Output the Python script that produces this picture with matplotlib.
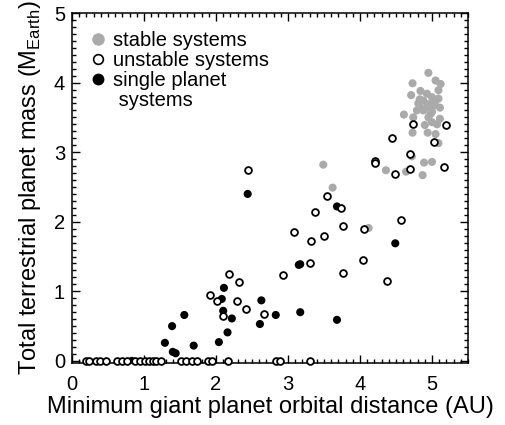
import matplotlib
matplotlib.use("Agg")
import matplotlib.pyplot as plt
from matplotlib.lines import Line2D
from matplotlib.ticker import MultipleLocator

plt.rcParams['font.family'] = ['Liberation Sans', 'DejaVu Sans']
plt.rcParams['mathtext.fontset'] = 'custom'
plt.rcParams['mathtext.rm'] = 'Liberation Sans'

# stable systems (gray)
stable_x = [4.95, 4.73, 5.05, 5.12, 5.09, 4.84, 4.71, 4.93, 5.00, 5.09, 4.88, 4.95,
            5.04, 4.83, 4.93, 5.11, 4.79, 4.88, 5.00, 4.95, 4.61, 4.74, 5.11, 5.00,
            4.90, 5.07, 4.73, 4.94, 5.05, 5.09, 4.72, 4.89, 5.00, 4.64, 4.87, 4.36,
            3.49, 3.62, 4.12, 4.83, 5.01, 4.81, 4.98, 5.03]
stable_y = [4.14, 3.99, 4.03, 3.98, 3.89, 3.88, 3.82, 3.84, 3.79, 3.77, 3.74, 3.69,
            3.69, 3.65, 3.65, 3.64, 3.60, 3.60, 3.58, 3.50, 3.54, 3.50, 3.48, 3.43,
            3.39, 3.40, 3.28, 3.28, 3.26, 3.13, 2.94, 2.85, 2.86, 2.72, 2.67, 2.74,
            2.82, 2.49, 1.91, 3.76, 3.66, 3.70, 3.55, 3.72]

# unstable systems (open)
unstable_x = [4.74, 5.20, 4.44, 5.03, 4.69, 4.70, 4.49, 5.17, 4.21, 4.21, 3.54, 3.38,
              3.73, 4.57, 3.09, 3.77, 4.06, 3.50, 3.32, 3.31, 4.04, 2.93, 3.77, 4.37,
              2.44, 2.18, 2.32, 1.92, 2.02, 2.29, 2.10, 2.41, 2.67,
              0.19, 0.24, 0.34, 0.39, 0.47, 0.63, 0.69, 0.76, 0.88, 0.94, 1.01, 1.07,
              1.12, 1.17, 1.24, 1.52, 1.59, 1.66, 1.73, 1.89, 1.94, 2.16, 2.83, 2.89,
              3.31]
unstable_y = [3.41, 3.39, 3.21, 3.14, 2.97, 2.76, 2.69, 2.78, 2.88, 2.84, 2.37, 2.14,
              2.20, 2.02, 1.85, 1.94, 1.89, 1.79, 1.72, 1.41, 1.45, 1.24, 1.26, 1.15,
              2.75, 1.25, 1.14, 0.94, 0.86, 0.86, 0.65, 0.75, 0.67,
              0, 0, 0, 0, 0, 0, 0, 0, 0, 0, 0, 0,
              0, 0, 0, 0, 0, 0, 0, 0, 0, 0, 0, 0,
              0]

# single planet systems (filled)
single_x = [2.44, 3.68, 3.15, 3.17, 4.49, 3.17, 3.68, 2.11, 2.08, 2.10, 2.22, 2.63,
            2.83, 2.61, 2.16, 2.04, 1.56, 1.39, 1.29, 1.69, 1.40, 1.44, 0.83]
single_y = [2.40, 2.22, 1.38, 1.39, 1.69, 0.70, 0.59, 1.05, 0.89, 0.72, 0.61, 0.87,
            0.66, 0.53, 0.41, 0.27, 0.66, 0.50, 0.26, 0.22, 0.13, 0.11, 0.0]

GRAY = '#aaaaaa'

fig = plt.figure(figsize=(5.05, 4.25), dpi=100)
ax = fig.add_axes([0.1426, 0.1459, 0.7841, 0.8235])

ax.scatter(stable_x, stable_y, s=34, color=GRAY, edgecolors='none', zorder=2)
ax.scatter(single_x, single_y, s=34, color='black', edgecolors='none', zorder=3)
ax.scatter(unstable_x, unstable_y, s=24, facecolors='white', edgecolors='black',
           linewidths=1.3, zorder=4, clip_on=False)

ax.set_xlim(0, 5.5)
ax.set_ylim(-0.03, 5.0)
ax.xaxis.set_major_locator(MultipleLocator(1))
ax.xaxis.set_minor_locator(MultipleLocator(0.1))
ax.yaxis.set_major_locator(MultipleLocator(1))
ax.yaxis.set_minor_locator(MultipleLocator(0.1))
ax.tick_params(which='both', direction='in', top=True, right=True, width=1)
ax.tick_params(which='major', length=5.5, labelsize=14.5)
ax.tick_params(axis='x', which='major', pad=9)
ax.tick_params(axis='y', which='major', pad=5)
ax.tick_params(which='minor', length=2.7)
for sp in ax.spines.values():
    sp.set_linewidth(1.1)

ax.set_xlabel('Minimum giant planet orbital distance (AU)', fontsize=17, labelpad=1)
ax.set_ylabel(r'Total terrestrial planet mass (M$_{\rm Earth}$)', fontsize=17, labelpad=8)

handles = [
    Line2D([], [], linestyle='none', marker='o', markersize=9, color=GRAY, markeredgecolor='none'),
    Line2D([], [], linestyle='none', marker='o', markersize=7, markerfacecolor='white',
           markeredgecolor='black', markeredgewidth=1.2),
    Line2D([], [], linestyle='none', marker='o', markersize=7.5, color='black'),
    Line2D([], [], linestyle='none'),
]
labels = ['stable systems', 'unstable systems', 'single planet', ' systems']
leg = ax.legend(handles, labels, loc='upper left', bbox_to_anchor=(0.0, 1.0),
                frameon=False, fontsize=14.5, handlelength=0.8, handletextpad=0.35,
                labelspacing=0.05, borderaxespad=0.5)

fig.savefig('out.png', dpi=100)
